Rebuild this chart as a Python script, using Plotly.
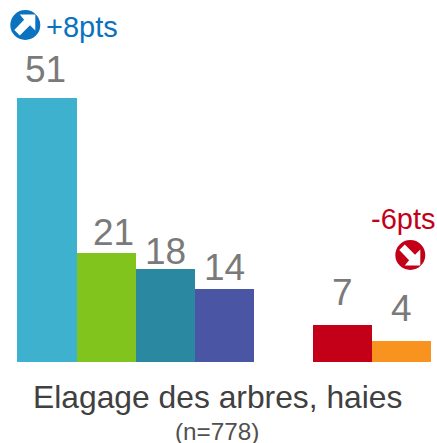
import plotly.graph_objects as go

categories = ["A", "B", "C", "D", " ", "E", "F"]
values = [51, 21, 18, 14.1, None, 7.1, 4]
labels = ["51", "21", "18", "14", "", "7", "4"]
colors = ["#3EB1CE", "#82C41E", "#2A88A0", "#4A55A4", "#FFFFFF", "#C40018", "#F7931E"]
title_main = "Elagage des arbres, haies"
title_sub = "(n=778)"
delta_up = "+8pts"
delta_down = "-6pts"

W, H = 437, 443
BASE = 362
UNIT = 264 / 51
FONT = "Liberation Sans, Arial, sans-serif"
# per-label nudges of the value labels, in pixels
label_dx = [-2.5, 7, 0, 0, 0, 0, 0]
label_dy = [6, -2, -5, -1, 0, 10, 10]
# the first bar is one pixel wider than the others
EXTRA = 1 / 59
bar_widths = [1 + EXTRA, 1, 1, 1, 1, 1, 1]
bar_offsets = [-0.5 - EXTRA, -0.5, -0.5, -0.5, -0.5, -0.5, -0.5]


def px(x):
    return x / W


def py(y):
    return 1 - y / H


fig = go.Figure(
    go.Bar(x=categories, y=values, marker=dict(color=colors, line=dict(width=0)),
           width=bar_widths, offset=bar_offsets, hoverinfo="skip")
)

annotations = []
for c, v, t, dx, dy in zip(categories, values, labels, label_dx, label_dy):
    if v is None:
        continue
    annotations.append(dict(x=c, y=v, xref="x", yref="y", text=t, showarrow=False,
                            yanchor="bottom", yshift=dy, xshift=dx,
                            font=dict(family=FONT, size=37, color="#7A7A7A")))


def label(x, y, text, size, color, height=None):
    annotations.append(dict(x=px(x), y=py(y), xref="paper", yref="paper", text=text, showarrow=False,
                            xanchor="center", yanchor="middle", height=height,
                            font=dict(family=FONT, size=size, color=color)))


label(217.5, 397, title_main, 31.8, "#404040")
label(217, 431, title_sub, 24.3, "#505050", height=24)
label(81.5, 27, delta_up, 29, "#0A72BE")
label(403, 219, delta_down, 29, "#C40018")

shapes = []


def icon(cx, cy, r, color, down):
    shapes.append(dict(type="circle", xref="paper", yref="paper",
                       x0=px(cx - r), x1=px(cx + r), y0=py(cy + r), y1=py(cy - r),
                       fillcolor=color, line=dict(width=0)))
    pts = [(-5.5, -10.5), (10, -10.5), (10, 5.5), (4.7, 0.2), (-5.5, 10.5), (-11, 5), (-1.2, -5.2)]
    if down:
        pts = [(a, -b) for a, b in pts]
    path = "M " + " L ".join(f"{px(cx + a):.5f},{py(cy + b):.5f}" for a, b in pts) + " Z"
    shapes.append(dict(type="path", xref="paper", yref="paper", path=path,
                       fillcolor="#FFFFFF", line=dict(width=0)))


icon(25.3, 25, 15, "#0A72BE", False)
icon(410.3, 255, 15, "#C40018", True)

fig.update_layout(
    width=W, height=H, autosize=False,
    margin=dict(l=0, r=0, t=0, b=0),
    paper_bgcolor="white", plot_bgcolor="white",
    showlegend=False, bargap=0,
    xaxis=dict(domain=[17 / W, 431 / W], type="category", categoryorder="array", categoryarray=categories,
               range=[-0.5 - EXTRA, 6.5], visible=False, fixedrange=True),
    yaxis=dict(domain=[1 - BASE / H, 1], range=[0, BASE / UNIT], visible=False, fixedrange=True),
    annotations=annotations, shapes=shapes,
)

fig.write_html("out.html", config=dict(displayModeBar=False),
               post_script="document.body.style.margin='0';")
